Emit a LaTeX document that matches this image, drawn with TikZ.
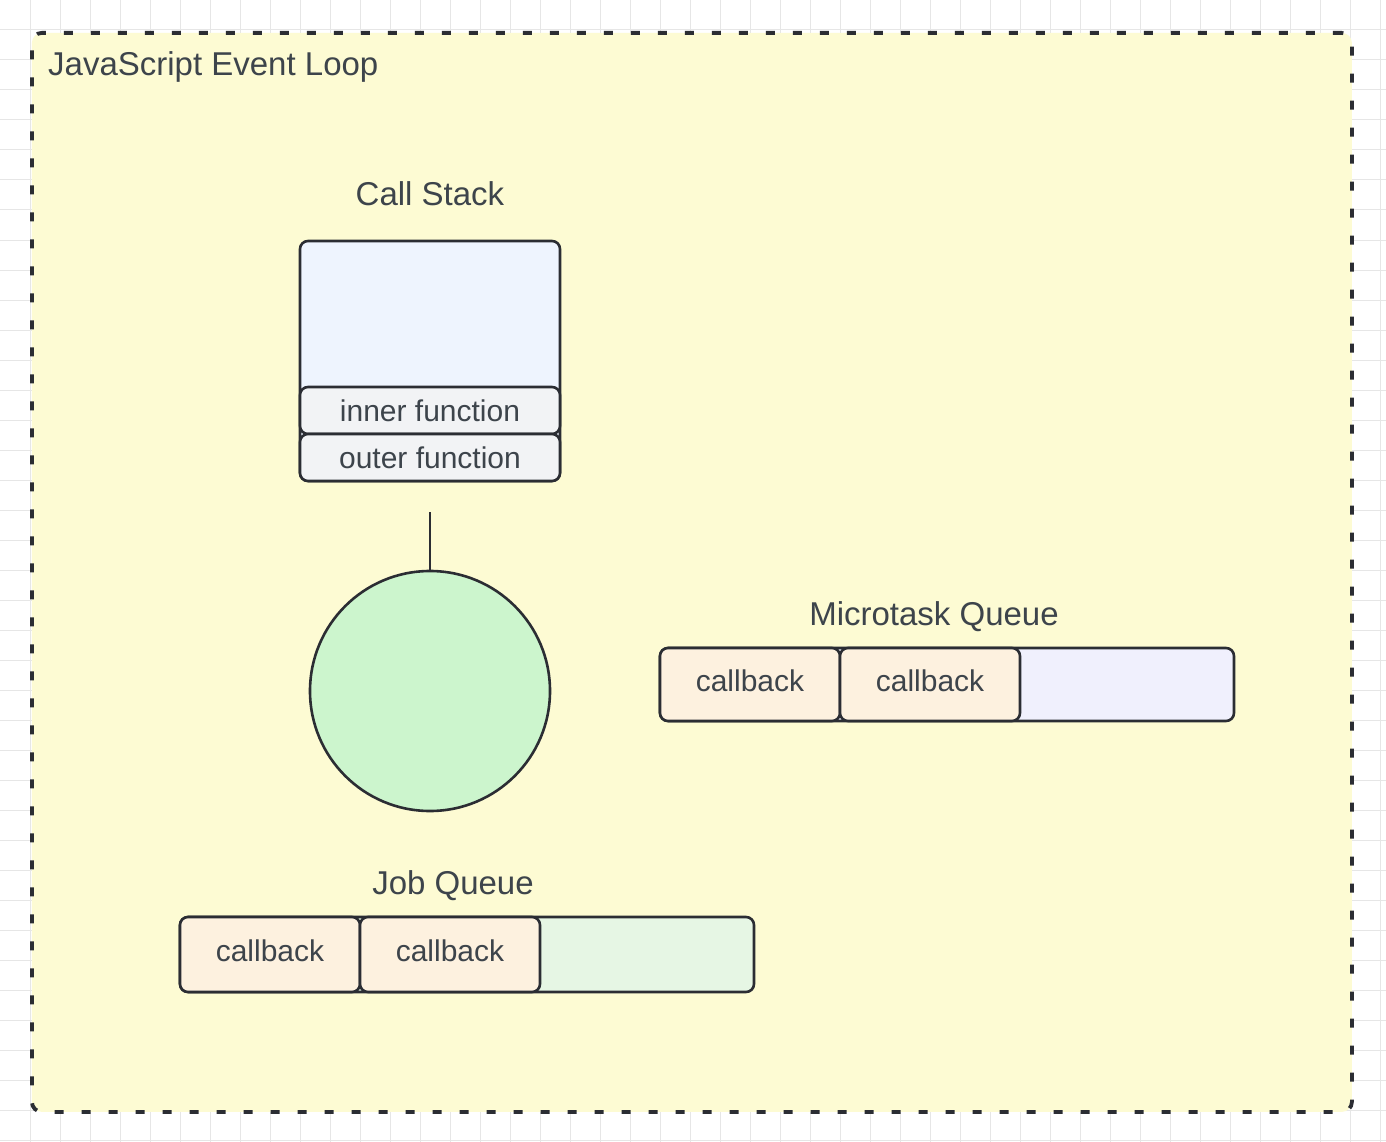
\documentclass[tikz,border=0pt]{standalone}
\usepackage{fontspec}
\setmainfont{Liberation Sans}
\definecolor{inkc}{HTML}{2B2D33}
\definecolor{textc}{HTML}{3D444B}
\definecolor{yellowbg}{HTML}{FDFBD3}
\definecolor{gridc}{HTML}{E6E6E6}
\definecolor{stackfill}{HTML}{EEF4FE}
\definecolor{framefill}{HTML}{F2F3F5}
\definecolor{loopfill}{HTML}{CCF5CD}
\definecolor{microfill}{HTML}{F0F0FD}
\definecolor{cbfill}{HTML}{FDF1DF}
\definecolor{jobfill}{HTML}{E6F6E4}
\begin{document}
\begin{tikzpicture}[x=1pt,y=-1pt,
  boxbase/.style={draw=inkc, line width=2.6pt, rounded corners=8pt, inner sep=0pt, outer sep=0pt, text=textc, font=\fontsize{30}{36}\selectfont},
  stackbox/.style={boxbase, fill=stackfill, minimum width=260pt, minimum height=240pt},
  framebox/.style={boxbase, fill=framefill, minimum width=260pt, minimum height=47pt},
  queuebox/.style={boxbase, minimum width=574pt},
  cbbox/.style={boxbase, fill=cbfill, minimum width=180pt, text height=22pt, text depth=9pt},
  title/.style={text=textc, inner sep=0pt, font=\fontsize{33}{40}\selectfont},
  conn/.style={draw=inkc, line width=2.6pt}
]
\useasboundingbox (0,0) rectangle (1386,1142);
\fill[white] (0,0) rectangle (1386,1142);
\foreach \gx in {30,60,...,1380} \draw[gridc, line width=1pt] (\gx,0) -- (\gx,1142);
\foreach \gy in {30,60,...,1140} \draw[gridc, line width=1pt] (0,\gy) -- (1386,\gy);

\node[draw=inkc, fill=yellowbg, line width=3.8pt, dash pattern=on 9pt off 18pt, rounded corners=10pt, minimum width=1320pt, minimum height=1079pt, inner sep=0pt, anchor=north west] (frame) at (30,31) {};
\node[title, anchor=base west] (titletext) at (48,76) {JavaScript Event Loop};

% Call stack
\node[title, anchor=base] (stacklabel) at (430,205) {Call Stack};
\node[stackbox, anchor=north west] (stack) at (300,241) {};
\node[framebox] (inner) at (430,410.5) {inner function};
\node[framebox] (outer) at (430,457.5) {outer function};

% Event loop
\node[draw=inkc, fill=loopfill, line width=2.6pt, circle, minimum size=240pt, inner sep=0pt, outer sep=0pt] (loop) at (430,691) {};
\coordinate (lt) at (430,512);
\draw[conn] (lt) -- (loop.north);

% Microtask queue
\node[title, anchor=base] (microlabel) at (934,625) {Microtask Queue};
\node[queuebox, fill=microfill, minimum height=73pt] (micro) at (947,684.5) {};
\node[cbbox, minimum height=73pt] (mcb1) at (750,684.5) {callback};
\node[cbbox, minimum height=73pt] (mcb2) at (930,684.5) {callback};

% Job queue
\node[title, anchor=base] (joblabel) at (453,894) {Job Queue};
\node[queuebox, fill=jobfill, minimum height=75pt] (job) at (467,954.5) {};
\node[cbbox, minimum height=75pt] (jcb1) at (270,954.5) {callback};
\node[cbbox, minimum height=75pt] (jcb2) at (450,954.5) {callback};
\end{tikzpicture}
\end{document}
